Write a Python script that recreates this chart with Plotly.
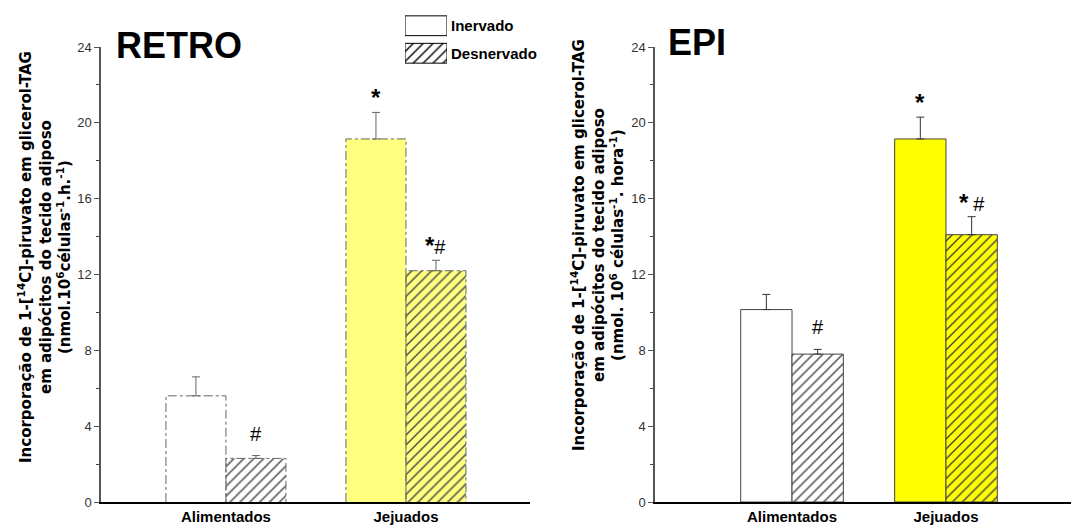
import plotly.graph_objects as go

categories = ["Alimentados", "Jejuados"]

# RETRO panel
retro_inervado = [5.6, 19.15]
retro_inervado_err = [1.0, 1.4]
retro_desnervado = [2.3, 12.2]
retro_desnervado_err = [0.15, 0.55]
retro_marks_inervado = ["", "*"]
retro_marks_desnervado = ["#", "*#"]

# EPI panel
epi_inervado = [10.15, 19.15]
epi_inervado_err = [0.8, 1.15]
epi_desnervado = [7.8, 14.1]
epi_desnervado_err = [0.25, 0.95]
epi_marks_inervado = ["", "*"]
epi_marks_desnervado = ["#", "* #"]

legend_labels = ["Desnervado", "Inervado"]

W, H = 1071, 532
def px(x):
    return x / W
def py(y):
    return 1 - y / H

SANS = "Liberation Sans, Arial, sans-serif"

def mark_html(m):
    out = ""
    for ch in m:
        if ch == "*":
            out += "<span style='font-size:24px'><b>*</b></span>"
        elif ch == "#":
            out += "<span style='font-size:20px'>#</span>"
        else:
            out += " "
    return out

fig = go.Figure()

bw = 1 / 3
xpos = list(range(len(categories)))
panels = [
    dict(xa="x", ya="y", inv=retro_inervado, inv_e=retro_inervado_err,
         des=retro_desnervado, des_e=retro_desnervado_err,
         fills=["white", "#ffff80"], line="#666666", err="#666666", dash=True,
         mi=retro_marks_inervado, md=retro_marks_desnervado),
    dict(xa="x2", ya="y2", inv=epi_inervado, inv_e=epi_inervado_err,
         des=epi_desnervado, des_e=epi_desnervado_err,
         fills=["white", "#ffff00"], line="#444444", err="#333333", dash=False,
         mi=epi_marks_inervado, md=epi_marks_desnervado),
]

hatch = dict(shape="/", fgcolor="#000000", fgopacity=1, size=7,
             solidity=0.2, fillmode="overlay")

annotations = []
for p in panels:
    lw = 0 if p["dash"] else 1
    fig.add_trace(go.Bar(
        x=xpos, y=p["inv"], xaxis=p["xa"], yaxis=p["ya"],
        width=bw, offset=-bw,
        marker=dict(color=p["fills"], line=dict(color=p["line"], width=lw)),
        error_y=dict(type="data", symmetric=False, array=p["inv_e"],
                     arrayminus=[0] * len(p["inv_e"]), color=p["err"],
                     thickness=1, width=4),
        showlegend=False, hoverinfo="skip"))
    fig.add_trace(go.Bar(
        x=xpos, y=p["des"], xaxis=p["xa"], yaxis=p["ya"],
        width=bw, offset=0,
        marker=dict(color=p["fills"], line=dict(color=p["line"], width=lw),
                    pattern=hatch),
        error_y=dict(type="data", symmetric=False, array=p["des_e"],
                     arrayminus=[0] * len(p["des_e"]), color=p["err"],
                     thickness=1, width=4),
        showlegend=False, hoverinfo="skip"))
    if p["dash"]:
        # dash-dot outlines of the bars, following the same data values
        for vals, off in ((p["inv"], -bw), (p["des"], 0)):
            for i, v in zip(xpos, vals):
                fig.add_trace(go.Scatter(
                    x=[i + off, i + off, i + off + bw, i + off + bw],
                    y=[0, v, v, 0], mode="lines", xaxis=p["xa"], yaxis=p["ya"],
                    line=dict(color=p["line"], width=1, dash="dashdot"),
                    showlegend=False, hoverinfo="skip"))
    for i in xpos:
        for vals, errs, marks, off in ((p["inv"], p["inv_e"], p["mi"], -bw / 2),
                                       (p["des"], p["des_e"], p["md"], bw / 2)):
            m = marks[i]
            if not m:
                continue
            annotations.append(dict(
                x=i + off, y=vals[i] + errs[i], xref=p["xa"], yref=p["ya"],
                text=mark_html(m), showarrow=False, xanchor="center",
                yanchor="bottom", yshift=(9 if m == "#" else -1),
                font=dict(family=SANS, size=18, color="black")))

# legend swatches as a tiny horizontal bar chart
fig.add_trace(go.Bar(
    y=["Inervado"], x=[1], orientation="h", xaxis="x3", yaxis="y3", width=0.72,
    marker=dict(color="white", line=dict(color="black", width=1)),
    showlegend=False, hoverinfo="skip"))
fig.add_trace(go.Bar(
    y=["Desnervado"], x=[1], orientation="h", xaxis="x3", yaxis="y3", width=0.72,
    marker=dict(color="white", line=dict(color="black", width=1), pattern=hatch),
    showlegend=False, hoverinfo="skip"))

ydom = [py(502), py(47)]
yaxis_common = dict(
    range=[0, 24], tickvals=[0, 4, 8, 12, 16, 20, 24], showgrid=False, zeroline=False,
    showline=True, linewidth=1.5, ticks="outside", ticklen=5, tickwidth=1,
    minor=dict(ticks="outside", ticklen=3, dtick=2, tickcolor="#444", showgrid=False),
    tickfont=dict(family=SANS, size=13, color="#333"), domain=ydom, fixedrange=True)
xaxis_common = dict(
    tickvals=xpos, ticktext=[f"<b>{c}</b>" for c in categories],
    showgrid=False, zeroline=False, showline=True, linecolor="black",
    linewidth=1.5, ticks="", tickfont=dict(family=SANS, size=15, color="black"),
    fixedrange=True)

fig.update_layout(
    width=W, height=H, autosize=False,
    margin=dict(l=0, r=0, t=0, b=0, autoexpand=False),
    plot_bgcolor="white", paper_bgcolor="white",
    barmode="overlay", showlegend=False,
    xaxis=dict(**xaxis_common, domain=[px(101), px(530)], range=[-0.694, 1.689],
               anchor="y"),
    yaxis=dict(**yaxis_common, linecolor="#555", tickcolor="#555", anchor="x"),
    xaxis2=dict(**xaxis_common, domain=[px(655), 1.0], range=[-0.890, 1.812],
                anchor="y2"),
    yaxis2=dict(**yaxis_common, linecolor="#555", tickcolor="#555", anchor="x2"),
    xaxis3=dict(domain=[px(405), px(447)], range=[0, 1], visible=False, anchor="y3",
                fixedrange=True),
    yaxis3=dict(domain=[py(67), py(12)], type="category",
                categoryorder="array", categoryarray=legend_labels,
                side="right", anchor="x3", showline=False, ticks="", showgrid=False,
                tickvals=legend_labels, ticktext=[f"<b>{t}</b>" for t in legend_labels],
                tickfont=dict(family=SANS, size=15, color="black"),
                ticklabelstandoff=3, fixedrange=True),
)

title1 = ("<b>Incorporação de 1-[<sup>14</sup>C]-piruvato em glicerol-TAG<br>"
          "em adipócitos do tecido adiposo<br>"
          "(nmol.10<sup>6</sup>células<sup>-1</sup>.h.<sup>-1</sup>)</b>")
title2 = ("<b>Incorporação de 1-[<sup>14</sup>C]-piruvato em glicerol-TAG<br>"
          "em adipócitos do tecido adiposo<br>"
          "(nmol. 10<sup>6</sup> células<sup>-1</sup>. hora<sup>-1</sup>)</b>")

annotations += [
    dict(x=px(45), y=py(257), xref="paper", yref="paper", text=title1, textangle=-90,
         xanchor="center", yanchor="middle",
         showarrow=False, font=dict(family="DejaVu Sans", size=15, color="black")),
    dict(x=px(597), y=py(245), xref="paper", yref="paper", text=title2, textangle=-90,
         xanchor="center", yanchor="middle",
         showarrow=False, font=dict(family="DejaVu Sans", size=15, color="black")),
    dict(x=px(179), y=py(45), xref="paper", yref="paper", text="<b>RETRO</b>",
         xanchor="center", yanchor="middle",
         showarrow=False, font=dict(family=SANS, size=36, color="black")),
    dict(x=px(697), y=py(42), xref="paper", yref="paper", text="<b>EPI</b>",
         xanchor="center", yanchor="middle",
         showarrow=False, font=dict(family=SANS, size=36, color="black")),
]
fig.update_layout(annotations=annotations)

fig.write_html("out.html")
